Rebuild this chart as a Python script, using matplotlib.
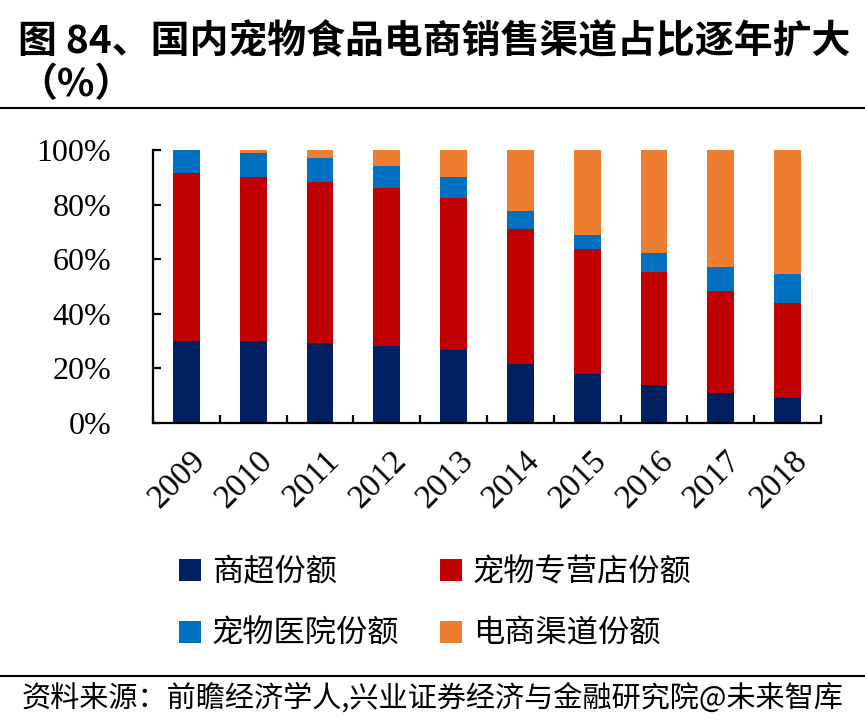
import numpy as np
import matplotlib.pyplot as plt
import matplotlib.transforms as mtransforms
from matplotlib.lines import Line2D

plt.rcParams['font.family'] = ['Noto Sans CJK SC', 'DejaVu Sans']

years = ['2009', '2010', '2011', '2012', '2013', '2014', '2015', '2016', '2017', '2018']
supermarket = [30.0, 30.0, 29.4, 28.3, 26.7, 21.5, 17.9, 13.9, 10.9, 9.3]
pet_store = [61.5, 60.2, 59.0, 57.7, 55.8, 49.4, 45.7, 41.5, 37.6, 34.7]
pet_hospital = [8.5, 8.6, 8.8, 8.1, 7.7, 6.7, 5.1, 7.0, 8.8, 10.5]
ecommerce = [0.0, 1.2, 2.8, 5.9, 9.8, 22.4, 31.3, 37.6, 42.7, 45.5]

series = [
    ('商超份额', supermarket, '#002060'),
    ('宠物专营店份额', pet_store, '#C00000'),
    ('宠物医院份额', pet_hospital, '#0070C0'),
    ('电商渠道份额', ecommerce, '#ED7D31'),
]

fig = plt.figure(figsize=(8.65, 7.28), dpi=100)
ax = fig.add_axes([153 / 865, 1 - 423 / 728, (821 - 153) / 865, 273 / 728])

x = np.arange(len(years))
bottom = np.zeros(len(years))
handles = []
for name, vals, color in series:
    vals = np.array(vals) / 100.0
    b = ax.bar(x, vals, width=0.4, bottom=bottom, color=color, label=name)
    bottom += vals
    handles.append(b)

ax.set_xlim(-0.5, len(years) - 0.5)
ax.set_ylim(0, 1)
ax.spines['top'].set_visible(False)
ax.spines['right'].set_visible(False)
for s in ['left', 'bottom']:
    ax.spines[s].set_linewidth(1.6)

serif = 'Liberation Serif'
ax.set_yticks(np.arange(0, 1.01, 0.2))
ax.set_yticklabels(['{}%'.format(int(round(v * 100))) for v in np.arange(0, 1.01, 0.2)],
                   family=serif, fontsize=23)
ax.tick_params(axis='y', direction='in', length=6, width=1.6, pad=30)

ax.set_xticks(x)
ax.set_xticklabels(years, family=serif, fontsize=24, rotation=45,
                   ha='right', va='top', rotation_mode='anchor')
ax.set_xticks(np.arange(-0.5, len(years)), minor=True)
ax.tick_params(axis='x', which='major', length=0, pad=16)
ax.tick_params(axis='x', which='minor', direction='in', length=6, width=1.6)
# shift x labels slightly right
offset = mtransforms.ScaledTranslation(4 / 100, 0, fig.dpi_scale_trans)
for lbl in ax.get_xticklabels():
    lbl.set_transform(lbl.get_transform() + offset)

# legend filled row by row
order = [0, 2, 1, 3]
fig.legend(handles=[handles[i] for i in order], labels=[series[i][0] for i in order],
           ncol=2, loc='upper left', bbox_to_anchor=(151 / 865, 1 - 528 / 728),
           frameon=False, fontsize=22.5, handlelength=0.7, handleheight=0.7,
           handletextpad=0.35, columnspacing=1.3, labelspacing=0.95)

fig.text(18 / 865, 1 - 42 / 728, '图 84、国内宠物食品电商销售渠道占比逐年扩大',
         fontsize=28, fontweight='bold', va='center', ha='left')
fig.text(18 / 865, 1 - 85 / 728, '（%）', fontsize=28, fontweight='bold',
         va='center', ha='left')
fig.add_artist(Line2D([0, 1], [1 - 108 / 728, 1 - 108 / 728], color='black', lw=1.5))
fig.add_artist(Line2D([0, 1], [1 - 676 / 728, 1 - 676 / 728], color='black', lw=1.5))
fig.text(22 / 865, 1 - 698 / 728, '资料来源：前瞻经济学人,兴业证券经济与金融研究院@未来智库',
         fontsize=21, va='center', ha='left')

fig.savefig('out.png', dpi=100)
